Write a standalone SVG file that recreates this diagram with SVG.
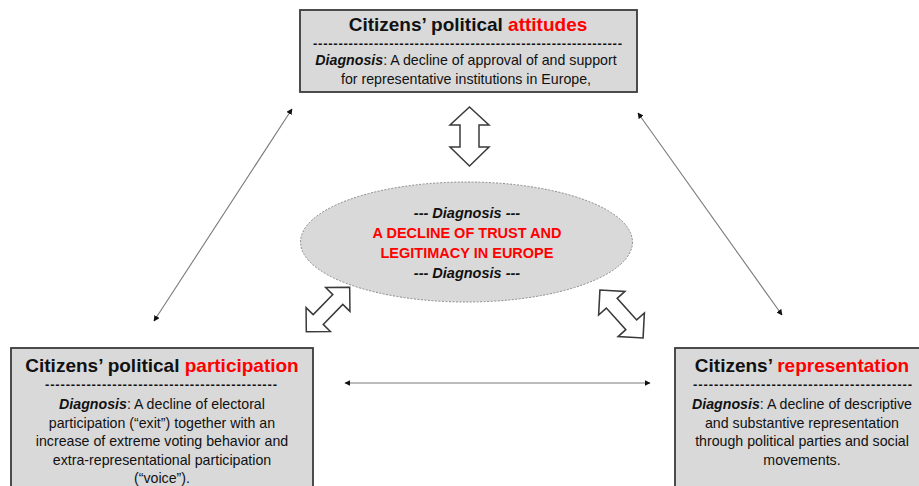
<svg xmlns="http://www.w3.org/2000/svg" width="919" height="486" viewBox="0 0 919 486">
<style>
.box{fill:#d9d9d9;stroke:#3a3a3a;stroke-width:1.8}
.t{font-family:"Liberation Sans",Arial,sans-serif;fill:#111;text-anchor:middle}
.title{font-size:19px;font-weight:bold}
.red{fill:#ff0000}
.body{font-size:14.2px}
.dash{font-size:13px;font-weight:bold}
.bi{font-weight:bold;font-style:italic}
.thin{stroke:#7a7a7a;stroke-width:1.1;fill:none;marker-start:url(#ah);marker-end:url(#ah)}
.block{fill:#fff;stroke:#3a3a3a;stroke-width:1.5;stroke-linejoin:miter}
</style>
<defs>
<marker id="ah" viewBox="0 0 10 10" refX="9" refY="5" markerWidth="6" markerHeight="6" orient="auto-start-reverse" markerUnits="userSpaceOnUse">
<path d="M0,0 L10,5 L0,10 z" fill="#111"/>
</marker>
<polygon id="dbl" points="31,0 14,-17 14,-7 -14,-7 -14,-17 -31,0 -14,17 -14,7 14,7 14,17"/>
</defs>

<g id="connectors">
<line class="thin" x1="292" y1="109" x2="154" y2="321"/>
<line class="thin" x1="638" y1="113" x2="782" y2="315"/>
<line class="thin" x1="345" y1="383" x2="650" y2="383"/>
<polygon class="block" points="469.5,107 489,125 479,125 479,147 489,147 469.5,166 450,147 460,147 460,125 450,125"/>
<use href="#dbl" class="block" transform="translate(328,309.5) rotate(-45.6)"/>
<use href="#dbl" class="block" transform="translate(621.5,314) rotate(48) scale(1.04)"/>
</g>

<g id="attitudes">
<rect class="box" x="300" y="10" width="337" height="82"/>
<text class="t title" x="468" y="31">Citizens’ political <tspan class="red">attitudes</tspan></text>
<text class="t dash" x="467.5" y="48" textLength="309" lengthAdjust="spacing">-------------------------------------------------------------</text>
<text class="t body" x="466" y="65"><tspan class="bi">Diagnosis</tspan>: A decline of approval of and support</text>
<text class="t body" x="466" y="84">for representative institutions in Europe,</text>
</g>

<g id="center">
<ellipse cx="466.5" cy="242" rx="166" ry="60" fill="#d9d9d9" stroke="#8a8a8a" stroke-width="1" stroke-dasharray="2,1.5"/>
<text class="t bi" style="font-size:14.5px" x="467" y="218">--- Diagnosis ---</text>
<text class="t red" style="font-size:14.5px;font-weight:bold" x="467" y="238">A DECLINE OF TRUST AND</text>
<text class="t red" style="font-size:14.5px;font-weight:bold" x="467" y="258">LEGITIMACY IN EUROPE</text>
<text class="t bi" style="font-size:14.5px" x="467" y="278">--- Diagnosis ---</text>
</g>

<g id="participation">
<rect class="box" x="11" y="348" width="302" height="150"/>
<text class="t title" x="162" y="372">Citizens’ political <tspan class="red">participation</tspan></text>
<text class="t dash" x="161" y="389" textLength="232" lengthAdjust="spacing">---------------------------------------------</text>
<text class="t body" x="162" y="409"><tspan class="bi">Diagnosis</tspan>: A decline of electoral</text>
<text class="t body" x="162" y="427.5">participation (“exit”) together with an</text>
<text class="t body" x="162" y="446">increase of extreme voting behavior and</text>
<text class="t body" x="162" y="464.5">extra-representational participation</text>
<text class="t body" x="162" y="482.5">(“voice”).</text>
</g>

<g id="representation">
<rect class="box" x="675" y="348" width="260" height="150"/>
<text class="t title" x="802" y="372">Citizens’ <tspan class="red">representation</tspan></text>
<text class="t dash" x="802.5" y="389" textLength="219" lengthAdjust="spacing">------------------------------------------</text>
<text class="t body" x="802" y="409"><tspan class="bi">Diagnosis</tspan>: A decline of descriptive</text>
<text class="t body" x="802" y="427.5">and substantive representation</text>
<text class="t body" x="802" y="446">through political parties and social</text>
<text class="t body" x="802" y="464.5">movements.</text>
</g>
</svg>
